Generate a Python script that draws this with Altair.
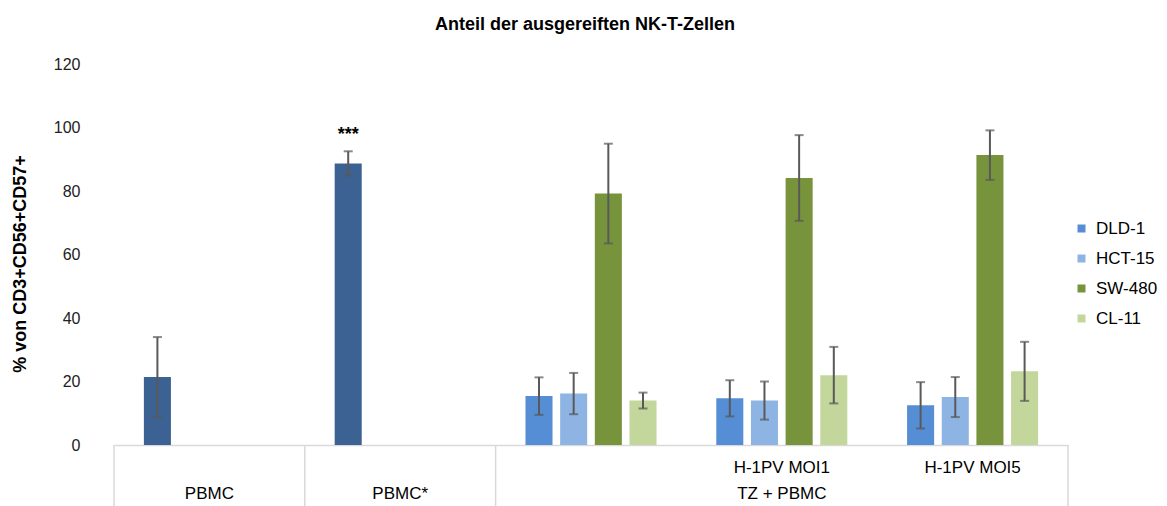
import altair as alt
import pandas as pd

# ---- data ----
categories = ["PBMC", "PBMC*", "TZ", "H-1PV MOI1", "H-1PV MOI5"]
level1_labels = ["", "", "", "H-1PV MOI1", "H-1PV MOI5"]
level2_labels = ["PBMC", "PBMC*", "", "TZ + PBMC", ""]
series = ["DLD-1", "HCT-15", "SW-480", "CL-11"]
colors = ["#558ED5", "#8EB4E3", "#77933C", "#C3D69B", "#3B6293"]

pbmc_groups = ["PBMC", "PBMC*"]
pbmc_means = [21.4, 88.7]
pbmc_err = [12.6, 3.8]
pbmc_sig = ["", "***"]

tz_groups = ["TZ", "H-1PV MOI1", "H-1PV MOI5"]
dld1_means = [15.4, 14.7, 12.5]
dld1_err = [5.9, 5.7, 7.3]
hct15_means = [16.2, 14.0, 15.1]
hct15_err = [6.5, 6.0, 6.3]
sw480_means = [79.2, 84.1, 91.3]
sw480_err = [15.7, 13.5, 7.8]
cl11_means = [14.0, 22.0, 23.2]
cl11_err = [2.5, 8.9, 9.3]

y_ticks = [0, 20, 40, 60, 80, 100, 120]

# ---- build table ----
rows = []
for g, m, e, s in zip(pbmc_groups, pbmc_means, pbmc_err, pbmc_sig):
    rows.append(dict(cat=g, series="DLD-1", colorkey="PBMC", mean=m, lo=m - e, hi=m + e, sig=s))
for name, means, errs in zip(series,
                             [dld1_means, hct15_means, sw480_means, cl11_means],
                             [dld1_err, hct15_err, sw480_err, cl11_err]):
    for g, m, e in zip(tz_groups, means, errs):
        rows.append(dict(cat=g, series=name, colorkey=name, mean=m, lo=m - e, hi=m + e, sig=""))
df = pd.DataFrame(rows)
sig_df = df[df["sig"] != ""]

labels_df = pd.DataFrame({"cat": categories, "l1": level1_labels, "l2": level2_labels})
sep_left = pd.DataFrame({"cat": ["PBMC", "PBMC*", "TZ"]})
sep_right = pd.DataFrame({"cat": ["H-1PV MOI5"]})

W, H = 954, 381
FONT = "Liberation Sans"
YTITLE = "% von CD3+CD56+CD57+"
ERR = "#595959"
GRID = "#D9D9D9"

xscale = alt.Scale(domain=categories, paddingInner=0, paddingOuter=0)
xaxis = alt.Axis(labels=False, ticks=False, domain=True, domainColor=GRID,
                 domainWidth=1.5, title=None, grid=False)
x = alt.X("cat:N", scale=xscale, axis=xaxis, sort=categories)
xo = alt.XOffset("series:N", scale=alt.Scale(domain=series, paddingInner=0.22, paddingOuter=0.862),
                 sort=series)
yscale = alt.Scale(domain=[0, 120])
yaxis = alt.Axis(values=y_ticks, title=YTITLE, domain=False, ticks=False, tickSize=0,
                 grid=False, labelPadding=34, labelFontSize=16, labelColor="#222222",
                 titleFontSize=18, titleFontWeight="bold", titleColor="#000000",
                 titleX=-94, titleY=H / 2 + 9, titleAngle=-90, titleAlign="center",
                 titleBaseline="middle")

base = alt.Chart(df)

bars = base.mark_bar().encode(
    x=x, xOffset=xo,
    y=alt.Y("mean:Q", scale=yscale, axis=yaxis),
    color=alt.Color("colorkey:N",
                    scale=alt.Scale(domain=series + ["PBMC"], range=colors),
                    legend=alt.Legend(values=series, title=None, orient="none",
                                      legendX=959, legendY=156, symbolType="square",
                                      symbolSize=64, symbolStrokeWidth=0,
                                      labelFontSize=17, labelOffset=6, rowPadding=12,
                                      labelColor="#000000", labelFont=FONT)),
)

err_rule = base.mark_rule(color=ERR, strokeWidth=2).encode(
    x=x, xOffset=xo,
    y=alt.Y("lo:Q", scale=yscale, axis=yaxis),
    y2="hi:Q",
)
cap_lo = base.mark_tick(color=ERR, thickness=2, size=9).encode(
    x=x, xOffset=xo, y=alt.Y("lo:Q", scale=yscale, axis=yaxis))
cap_hi = base.mark_tick(color=ERR, thickness=2, size=9).encode(
    x=x, xOffset=xo, y=alt.Y("hi:Q", scale=yscale, axis=yaxis))

sig = alt.Chart(sig_df).mark_text(fontSize=18, fontWeight="bold", dy=-16,
                                  baseline="middle", font=FONT, color="#000000").encode(
    x=x, xOffset=xo, y=alt.Y("hi:Q", scale=yscale, axis=yaxis), text="sig:N")

sepL = alt.Chart(sep_left).mark_rule(color=GRID, strokeWidth=1.5).encode(
    x=alt.X("cat:N", scale=xscale, axis=xaxis, bandPosition=0),
    y=alt.value(H), y2=alt.value(H + 70))
sepR = alt.Chart(sep_right).mark_rule(color=GRID, strokeWidth=1.5).encode(
    x=alt.X("cat:N", scale=xscale, axis=xaxis, bandPosition=1),
    y=alt.value(H), y2=alt.value(H + 70))

lab1 = alt.Chart(labels_df).mark_text(fontSize=17, font=FONT, baseline="alphabetic",
                                      color="#000000").encode(
    x=x, y=alt.value(H + 28), text="l1:N")
lab2 = alt.Chart(labels_df).mark_text(fontSize=17, font=FONT, baseline="alphabetic",
                                      color="#000000").encode(
    x=x, y=alt.value(H + 54), text="l2:N")

chart = alt.layer(bars, err_rule, cap_lo, cap_hi, sig, sepL, sepR, lab1, lab2).properties(
    width=W, height=H,
    title=alt.TitleParams("Anteil der ausgereiften NK-T-Zellen", fontSize=18,
                          fontWeight="bold", font=FONT, anchor="middle", offset=22,
                          dx=-6, color="#000000"),
    autosize=alt.AutoSizeParams(type="none"),
    padding={"left": 106, "top": 56, "right": 90, "bottom": 63},
).configure(font=FONT).configure_view(stroke="transparent", strokeWidth=0)

chart.save("out.html", embed_options={"renderer": "svg", "actions": False})
